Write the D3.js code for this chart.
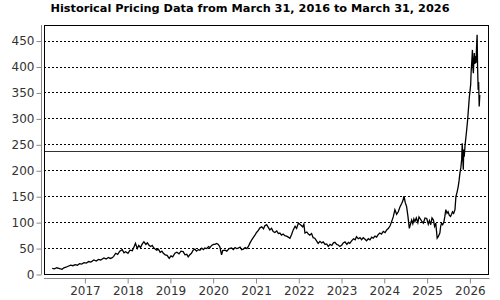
<!DOCTYPE html>
<html>
<head>
<meta charset="utf-8">
<script src="https://cdn.jsdelivr.net/npm/d3@7"></script>
<style>
    body { margin: 0; background: #fff; }
    svg { display: block; font-family: "DejaVu Sans", sans-serif; }
</style>
</head>
<body>
<svg width="500" height="300"></svg>
<script>
(() => {

    const chartTitle = 'Historical Pricing Data from March 31, 2016 to March 31, 2026';

    // closing prices, one line per year
    const priceDates = [
        '2016-04-01', '2016-04-20', '2016-05-10', '2016-05-28', '2016-06-24', '2016-07-10', '2016-07-28', '2016-08-15',
        '2016-09-06', '2016-09-25', '2016-10-14', '2016-11-02', '2016-11-20', '2016-12-08', '2016-12-29',
        '2017-01-18', '2017-02-06', '2017-02-25', '2017-03-23', '2017-04-12', '2017-05-01', '2017-05-20', '2017-06-16',
        '2017-07-05', '2017-07-25', '2017-08-10', '2017-08-24', '2017-09-08', '2017-09-25', '2017-10-12', '2017-10-30',
        '2017-11-20', '2017-12-05', '2017-12-19',
        '2018-01-08', '2018-01-25', '2018-02-14', '2018-02-28', '2018-03-13', '2018-03-28', '2018-04-10', '2018-04-25',
        '2018-05-10', '2018-05-24', '2018-06-10', '2018-06-22', '2018-07-05', '2018-07-20', '2018-08-03', '2018-08-17',
        '2018-08-28', '2018-09-10', '2018-09-25', '2018-10-10', '2018-10-24', '2018-11-06', '2018-11-22', '2018-12-08',
        '2018-12-26',
        '2019-01-10', '2019-01-25', '2019-02-13', '2019-03-01', '2019-03-20', '2019-04-05', '2019-04-24', '2019-05-10',
        '2019-05-25', '2019-06-06', '2019-06-20', '2019-07-04', '2019-07-18', '2019-08-02', '2019-08-16', '2019-09-01',
        '2019-09-14', '2019-09-30', '2019-10-14', '2019-10-26', '2019-11-12', '2019-11-26', '2019-12-09', '2019-12-23',
        '2020-01-08', '2020-01-20', '2020-02-05', '2020-02-18', '2020-03-03', '2020-03-17', '2020-03-27', '2020-04-15',
        '2020-05-01', '2020-05-20', '2020-06-11', '2020-06-25', '2020-07-10', '2020-07-24', '2020-08-07', '2020-08-22',
        '2020-09-05', '2020-09-19', '2020-10-05', '2020-10-19', '2020-11-01', '2020-11-15', '2020-11-30', '2020-12-12',
        '2020-12-27',
        '2021-01-10', '2021-01-25', '2021-02-08', '2021-02-23', '2021-03-10', '2021-03-22', '2021-04-06', '2021-04-20',
        '2021-05-03', '2021-05-18', '2021-06-01', '2021-06-15', '2021-07-01', '2021-07-15', '2021-07-28', '2021-08-11',
        '2021-08-25', '2021-09-08', '2021-09-23', '2021-10-08', '2021-10-22', '2021-11-05', '2021-11-19', '2021-12-05',
        '2021-12-18',
        '2022-01-02', '2022-01-20', '2022-02-08', '2022-02-18', '2022-02-27', '2022-03-15', '2022-03-28', '2022-04-10',
        '2022-04-25', '2022-05-08', '2022-05-22', '2022-06-06', '2022-06-20', '2022-07-05', '2022-07-20', '2022-08-02',
        '2022-08-18', '2022-09-01', '2022-09-14', '2022-09-30', '2022-10-15', '2022-10-28', '2022-11-10', '2022-11-25',
        '2022-12-08', '2022-12-22',
        '2023-01-08', '2023-01-20', '2023-02-04', '2023-02-20', '2023-03-05', '2023-03-17', '2023-04-01', '2023-04-18',
        '2023-05-02', '2023-05-13', '2023-05-28', '2023-06-12', '2023-06-26', '2023-07-10', '2023-07-25', '2023-08-07',
        '2023-08-22', '2023-09-05', '2023-09-20', '2023-10-03', '2023-10-18', '2023-11-01', '2023-11-14', '2023-11-28',
        '2023-12-12', '2023-12-28',
        '2024-01-12', '2024-01-26', '2024-02-10', '2024-02-24', '2024-03-08', '2024-03-22', '2024-04-05', '2024-04-20',
        '2024-05-04', '2024-05-18', '2024-06-02', '2024-06-12', '2024-06-22', '2024-07-02', '2024-07-14', '2024-07-25',
        '2024-08-06', '2024-08-16', '2024-08-26', '2024-09-05', '2024-09-14', '2024-09-23', '2024-10-05', '2024-10-18',
        '2024-10-28', '2024-11-06', '2024-11-20', '2024-12-04', '2024-12-18',
        '2025-01-02', '2025-01-15', '2025-01-25', '2025-02-05', '2025-02-16', '2025-02-28', '2025-03-10', '2025-03-20',
        '2025-04-01', '2025-04-10', '2025-04-24', '2025-05-01', '2025-05-08', '2025-05-18', '2025-05-27', '2025-06-05',
        '2025-06-14', '2025-06-24', '2025-07-03', '2025-07-14', '2025-07-24', '2025-08-02', '2025-08-10', '2025-08-20',
        '2025-08-31', '2025-09-08', '2025-09-18', '2025-09-28', '2025-10-05', '2025-10-12', '2025-10-20', '2025-10-27',
        '2025-11-01', '2025-11-05', '2025-11-10', '2025-11-14', '2025-11-18', '2025-11-25', '2025-12-03', '2025-12-10',
        '2025-12-17', '2025-12-24',
        '2026-01-01', '2026-01-06', '2026-01-12', '2026-01-16', '2026-01-21', '2026-01-27', '2026-02-01', '2026-02-04',
        '2026-02-08', '2026-02-12', '2026-02-17', '2026-02-22', '2026-02-27', '2026-03-03', '2026-03-08', '2026-03-12',
        '2026-03-17', '2026-03-21', '2026-03-26', '2026-03-31'
    ];
    const priceValues = [
        11, 10, 12, 11, 9, 12, 13, 15, 17, 16, 18, 17, 20, 19, 22,
        21, 24, 23, 27, 25, 28, 27, 31, 29, 32, 30, 31, 34, 40, 38, 44, 47, 41, 43,
        40, 46, 45, 52, 59, 49, 55, 51, 58, 62, 57, 60, 56, 53, 55, 50, 48, 46, 48, 42, 44, 40, 37, 36, 30,
        35, 33, 40, 42, 39, 44, 43, 37, 38, 33, 37, 40, 46, 48, 44, 47, 46, 50, 47, 50, 49, 53, 51, 55,
        57, 57, 59, 57, 52, 37, 45, 46, 44, 49, 50, 47, 51, 49, 50, 52, 47, 48, 51, 49, 53, 60, 66, 70, 75,
        80, 84, 89, 91, 87, 93, 95, 90, 85, 88, 82, 80, 83, 78, 79, 75, 77, 74, 73, 71, 69, 76, 85, 92, 88,
        98, 95, 91, 96, 79, 81, 77, 75, 78, 70, 69, 64, 59, 63, 60, 62, 57, 58, 53, 57, 55, 60, 61, 57, 56, 53,
        56, 60, 62, 57, 61, 59, 64, 68, 66, 72, 68, 70, 66, 70, 67, 64, 68, 66, 71, 69, 73, 71, 76, 79, 77, 82,
        80, 85, 88, 93, 101, 110, 124, 115, 120, 129, 136, 141, 150, 138, 130, 112, 88, 96, 104, 97, 106, 101,
        108, 99, 110, 107, 102, 98, 108,
        107, 96, 103, 95, 108, 104, 92, 98, 69, 72, 79, 92, 98, 95, 99, 110, 124, 117, 120, 113, 111, 115, 120,
        117, 124, 149, 158, 169, 180, 194, 205, 220, 252, 230, 201, 240, 226, 248, 265, 280, 297, 318,
        342, 352, 365, 390, 407, 432, 395, 387, 410, 426, 405, 420, 407, 435, 461, 400, 355, 370, 323, 345
    ];

    const yTickValues = [0, 50, 100, 150, 200, 250, 300, 350, 400, 450];
    const xTickYears = [2017, 2018, 2019, 2020, 2021, 2022, 2023, 2024, 2025, 2026];
    const referenceLevel = 237;

    const parseDate = d3.timeParse('%Y-%m-%d');
    const prices = priceDates.map((d, i) => ({date: parseDate(d), value: priceValues[i]}));

    const svg = d3.select('svg'),
            left = 44,
            right = 488,
            top = 25,
            bottom = 274;

    const x = d3.scaleTime()
            .domain([new Date(2016, 0, 22), new Date(2026, 5, 9)])
            .range([left, right]);

    const y = d3.scaleLinear()
            .domain([0, 480])
            .range([bottom, top]);

    svg.append('text')
            .attr('x', 250)
            .attr('y', 12)
            .attr('text-anchor', 'middle')
            .attr('font-size', '11.3px')
            .attr('font-weight', 'bold')
            .attr('fill', '#000')
            .text(chartTitle);

    // dotted grid
    svg.append('g')
            .selectAll('line')
            .data(yTickValues.filter(v => v > 0))
            .enter().append('line')
            .attr('x1', left)
            .attr('x2', right)
            .attr('y1', d => Math.round(y(d)) + 0.5)
            .attr('y2', d => Math.round(y(d)) + 0.5)
            .attr('stroke', '#000')
            .attr('stroke-dasharray', '2,2');

    svg.append('line')
            .attr('x1', left)
            .attr('x2', right)
            .attr('y1', Math.round(y(referenceLevel)) + 0.5)
            .attr('y2', Math.round(y(referenceLevel)) + 0.5)
            .attr('stroke', '#333');

    const line = d3.line()
            .x(d => x(d.date))
            .y(d => y(d.value));

    svg.append('path')
            .datum(prices)
            .attr('fill', 'none')
            .attr('stroke', '#000')
            .attr('stroke-width', 1.3)
            .attr('d', line);

    svg.append('rect')
            .attr('x', left + 0.5)
            .attr('y', top + 0.5)
            .attr('width', right - left)
            .attr('height', bottom - top)
            .attr('fill', 'none')
            .attr('stroke', '#000');

    const yAxis = svg.append('g')
            .attr('transform', 'translate(41.5,0.5)')
            .call(d3.axisLeft(y)
                    .tickValues(yTickValues)
                    .tickSize(5)
                    .tickSizeOuter(0)
                    .tickPadding(2));

    const xAxis = svg.append('g')
            .attr('transform', 'translate(0.5,278.5)')
            .call(d3.axisBottom(x)
                    .tickValues(xTickYears.map(yr => new Date(yr, 0, 1)))
                    .tickFormat(d3.timeFormat('%Y'))
                    .tickSize(5)
                    .tickSizeOuter(0)
                    .tickPadding(3));

    [yAxis, xAxis].forEach(g => {
        g.selectAll('path, line').attr('stroke', '#888');
        g.selectAll('text')
                .attr('fill', '#333')
                .attr('font-size', '12px')
                .attr('font-family', '"DejaVu Sans", sans-serif');
    });

    xAxis.select('.domain').attr('d', `M${left - 0.5},0H${right + 1}`);
    yAxis.select('.domain').attr('d', `M0,${top - 0.5}V${bottom}`);

})();
</script>
</body>
</html>
